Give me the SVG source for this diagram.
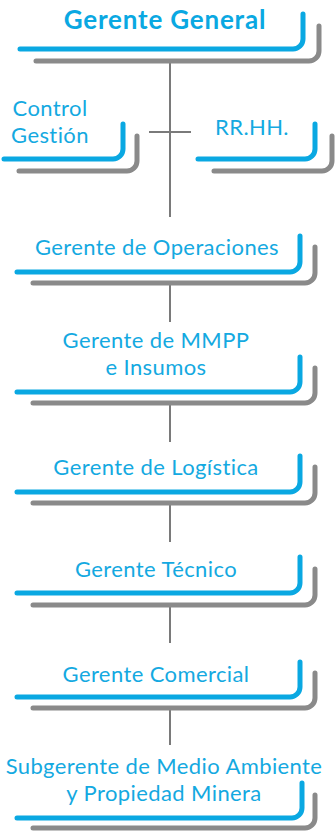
<svg xmlns="http://www.w3.org/2000/svg" width="336" height="831" viewBox="0 0 336 831">
<style>
.b{fill:none;stroke:#0aa8e2;stroke-width:5;stroke-linecap:round;stroke-linejoin:round}
.g{fill:none;stroke:#8a8a8a;stroke-width:5;stroke-linecap:round;stroke-linejoin:round}
.t{fill:#14a9e1;font-family:Lato,"Liberation Sans",sans-serif;font-size:22px;letter-spacing:0.4px;text-anchor:middle}
.tb{fill:#0aa8e2;font-family:Lato,"Liberation Sans",sans-serif;font-size:26px;font-weight:bold;letter-spacing:0.8px;text-anchor:middle}
.c{stroke:#7a7a7a;stroke-width:2;fill:none}
</style>
<rect width="336" height="831" fill="#fff"/>
<g id="connectors">
<path class="c" d="M170 61V217M149 132H191M170 284V322M170 404V442M170 504V542M170 606V643M170 709V745"/>
</g>
<g id="gerente-general">
<path class="b" d="M20 49H293A10 10 0 0 0 303 39V14"/>
<path class="g" d="M36 61H309A10 10 0 0 0 319 51V26"/>
<text class="tb" x="165" y="29">Gerente General</text>
</g>
<g id="control-gestion">
<path class="b" d="M4 159H113A10 10 0 0 0 123 149V124"/>
<path class="g" d="M19 171H127A10 10 0 0 0 137 161V136"/>
<text class="t" x="50" y="116">Control</text>
<text class="t" x="50" y="143">Gestión</text>
</g>
<g id="rrhh">
<path class="b" d="M198 159H305A10 10 0 0 0 315 149V124"/>
<path class="g" d="M214 171H322A10 10 0 0 0 332 161V136"/>
<text class="t" x="252" y="135">RR.HH.</text>
</g>
<g id="operaciones">
<path class="b" d="M17 272H290A10 10 0 0 0 300 262V236"/>
<path class="g" d="M33 283H305A10 10 0 0 0 315 273V247"/>
<text class="t" x="157" y="255">Gerente de Operaciones</text>
</g>
<g id="mmpp">
<path class="b" d="M17 392H290A10 10 0 0 0 300 382V357"/>
<path class="g" d="M33 403H305A10 10 0 0 0 315 393V368"/>
<text class="t" x="156" y="348">Gerente de MMPP</text>
<text class="t" x="156" y="375">e Insumos</text>
</g>
<g id="logistica">
<path class="b" d="M17 492H290A10 10 0 0 0 300 482V456"/>
<path class="g" d="M33 503H305A10 10 0 0 0 315 493V467"/>
<text class="t" x="156" y="475">Gerente de Logística</text>
</g>
<g id="tecnico">
<path class="b" d="M17 593H290A10 10 0 0 0 300 583V557"/>
<path class="g" d="M33 605H305A10 10 0 0 0 315 595V569"/>
<text class="t" x="156" y="577">Gerente Técnico</text>
</g>
<g id="comercial">
<path class="b" d="M17 697H290A10 10 0 0 0 300 687V662"/>
<path class="g" d="M33 708H305A10 10 0 0 0 315 698V673"/>
<text class="t" x="156" y="682">Gerente Comercial</text>
</g>
<g id="medio-ambiente">
<path class="b" d="M17 818H292A10 10 0 0 0 302 808V783"/>
<path class="g" d="M33 828H305A10 10 0 0 0 315 818V795"/>
<text class="t" x="164" y="774">Subgerente de Medio Ambiente</text>
<text class="t" x="164" y="801">y Propiedad Minera</text>
</g>
</svg>
